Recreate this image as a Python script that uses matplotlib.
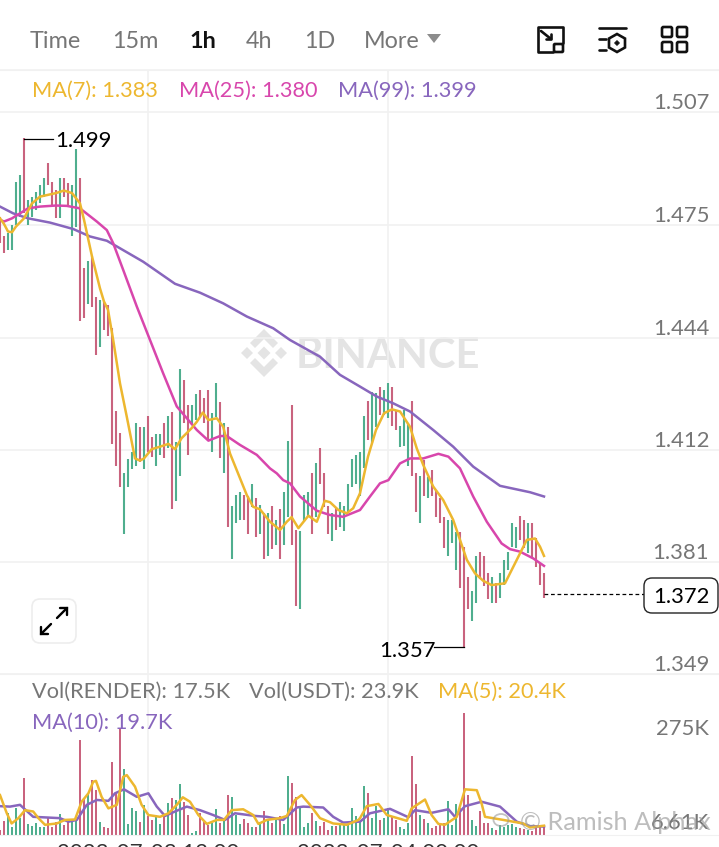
import matplotlib
matplotlib.use("Agg")
import matplotlib.pyplot as plt
from matplotlib.patches import FancyBboxPatch, Polygon, Ellipse
from matplotlib.transforms import ScaledTranslation

plt.rcParams['font.family'] = ['Lato', 'DejaVu Sans']

high = [1.4776,1.4720,1.4729,1.4753,1.4874,1.4893,1.4996,1.4823,1.4832,1.4846,
        1.4865,1.4884,1.4926,1.4874,1.4851,1.4884,1.4884,1.4870,1.4865,1.4965,
        1.4884,1.4631,1.4651,1.4664,1.4551,1.4542,1.4537,1.4528,1.4462,1.4228,
        1.4167,1.4054,1.4094,1.4115,1.4195,1.4185,1.4185,1.4215,1.4155,1.4165,
        1.4165,1.4195,1.4215,1.4227,1.4143,1.4347,1.4317,1.4246,1.4246,1.4277,
        1.4287,1.4265,1.4287,1.4225,1.4307,1.4256,1.4195,1.4185,1.3963,1.3993,
        1.4003,1.3993,1.3989,1.4024,1.3984,1.3965,1.3942,1.3942,1.3962,1.3923,
        1.3954,1.4003,1.4145,1.4246,1.3895,1.3893,1.3993,1.4003,1.4054,1.4084,
        1.4124,1.4054,1.3963,1.3942,1.3956,1.3973,1.3963,1.4024,1.4094,1.4106,
        1.4115,1.4215,1.4258,1.4284,1.4279,1.4298,1.4288,1.4307,1.4298,1.4228,
        1.4187,1.4232,1.4195,1.4258,1.4054,1.4047,1.4092,1.4045,1.4064,1.4007,
        1.3984,1.3932,1.3923,1.3923,1.3890,1.3890,1.3848,1.3762,1.3722,1.3822,
        1.3832,1.3822,1.3773,1.3762,1.3745,1.3773,1.3811,1.3834,1.3914,1.3904,
        1.3934,1.3923,1.3914,1.3914,1.3871,1.3799,1.3773]
low = [1.4701,1.4673,1.4682,1.4682,1.4753,1.4776,1.4785,1.4753,1.4776,1.4795,
       1.4813,1.4832,1.4865,1.4804,1.4771,1.4771,1.4832,1.4804,1.4722,1.4748,
       1.4481,1.4490,1.4530,1.4523,1.4387,1.4410,1.4457,1.4439,1.4137,1.4075,
       1.4015,1.3884,1.4015,1.4065,1.4075,1.4087,1.4065,1.4115,1.4099,1.4075,
       1.4106,1.4096,1.4124,1.3954,1.3975,1.4047,1.4197,1.4106,1.4190,1.4204,
       1.4213,1.4197,1.4148,1.4115,1.4212,1.4096,1.4056,1.3904,1.3812,1.3914,
       1.3923,1.3923,1.3884,1.3960,1.3874,1.3884,1.3812,1.3822,1.3841,1.3853,
       1.3812,1.3853,1.3932,1.3853,1.3681,1.3672,1.3918,1.3932,1.3884,1.3932,
       1.4024,1.3960,1.3884,1.3864,1.3895,1.3904,1.3893,1.3942,1.4015,1.4024,
       1.3989,1.4068,1.4148,1.4139,1.4185,1.4218,1.4218,1.4209,1.4187,1.4176,
       1.4127,1.4131,1.4075,1.4047,1.3945,1.3914,1.3989,1.3984,1.3989,1.3932,
       1.3914,1.3843,1.3822,1.3857,1.3782,1.3731,1.3562,1.3672,1.3640,1.3689,
       1.3756,1.3737,1.3700,1.3691,1.3691,1.3703,1.3740,1.3782,1.3846,1.3843,
       1.3867,1.3843,1.3829,1.3820,1.3792,1.3740,1.3703]
direction = ("rrggggrggg" "ggrrrgrrgg" "rrgrrgrrrr" "rggggrgrrg"
             "grgrggrrgg" "rrrggrgrgg" "grrgrgrgrg"
             "rggrrgggrg" "rrrgrggggg" "ggrggrggrr" "gggrrgrgrr"
             "rrgggrrrgg" "rrrgrggggg" "rrgrrrr")
volume = [11,32,49,19,60,38,128,25,20,28,19,17,40,19,30,47,23,35,34,34,
          214,83,94,125,101,30,19,15,165,98,240,148,25,60,53,30,68,43,34,45,
          25,43,73,83,79,116,75,45,5,8,49,30,23,28,59,28,34,90,86,45,
          25,35,28,19,19,30,53,34,28,34,43,25,133,118,86,64,17,26,49,32,
          20,30,11,20,20,23,23,25,60,43,30,110,95,38,65,34,38,60,41,34,
          19,13,26,178,115,45,35,28,15,20,25,26,77,23,70,60,274,90,34,21,
          53,26,28,15,11,23,19,23,25,19,15,13,11,10,19,21,18]

ma7_k = [0,1,2,3,4,6,8,10,12,14,16,18,20,21,23,25,26,27,28.3,30,31.7,33.75,35,36,37.9,40,42.1,43.75,45.4,47.9,
         49.2,50.7,52.1,54.2,55.8,57.5,61.7,63.3,65,67.5,70,71.7,72.9,74.6,77.1,79.2,81.2,82.5,84.6,86.7,88.3,90,
         92,94,96,98,100,102.5,104.2,105.8,108.3,110.8,113.3,115,116.7,118.75,120.8,122.9,126.25,127.9,130,131.7,133.75,135,136]
ma7 = [1.4771,1.4755,1.4734,1.4732,1.4748,1.4771,1.4813,1.4832,1.4837,1.4842,1.4849,1.4842,1.4813,1.4767,1.4664,1.4574,1.4537,1.4514,1.4429,1.4307,1.4213,1.4096,1.4090,1.4096,1.4122,1.4129,1.4137,1.4122,1.4153,1.4181,
       1.4199,1.4225,1.4204,1.4209,1.4185,1.4110,1.3993,1.3960,1.3953,1.3918,1.3895,1.3918,1.3931,1.3900,1.3935,1.3918,1.3977,1.3973,1.3951,1.3942,1.3956,1.3998,
       1.4101,1.4176,1.4223,1.4234,1.4228,1.4185,1.4124,1.4078,1.4017,1.3979,1.3923,1.3867,1.3811,1.3773,1.3752,1.3740,1.3745,1.3782,1.3829,1.3867,1.3871,1.3848,1.3822]
ma25_k = [0,1,3,5,7,10,14,16.7,20,24.2,26.7,28.3,30.8,34.2,37.5,40.8,44.2,46.7,49.2,52.1,55,56.7,60,64.2,67.5,69.2,70.8,72.5,75,79.2,82.5,85.8,90,
          92.5,95,97.1,100,102.5,105.8,109.6,112.1,115,118.3,121.7,125.4,127.5,130,133.3,136]
ma25 = [1.4767,1.4762,1.4771,1.4785,1.4799,1.4804,1.4807,1.4806,1.4799,1.4762,1.4738,1.4701,1.4626,1.4523,1.4429,1.4335,1.4242,1.4209,1.4176,1.4146,1.4159,1.4159,1.4134,1.4106,1.4068,1.4054,1.4035,1.4026,1.3989,1.3949,1.3937,1.3932,1.3951,
        1.3989,1.4026,1.4035,1.4082,1.4096,1.4096,1.4109,1.4101,1.4068,1.3989,1.3918,1.3857,1.3841,1.3834,1.3815,1.3794]
ma99_k = [0,3.3,7,12.5,18.3,22.5,26.7,29.2,35.8,43.75,50,55.8,61.7,68.3,72.5,80,85,90,94.2,98.3,102.5,108.3,113.3,118.3,125,130,132.5,136]
ma99 = [1.4804,1.4785,1.4771,1.4759,1.4741,1.4720,1.4708,1.4692,1.4649,1.4587,1.4562,1.4532,1.4495,1.4462,1.4429,1.4382,1.4331,1.4298,1.4270,1.4251,1.4228,1.4176,1.4129,1.4073,1.4019,1.4007,1.4001,1.3989]

vma5_k = [0,1.7,2.9,4.6,6.25,8.3,9.6,11.25,14.2,16.25,18.75,20.4,22.1,23.3,24,25.4,27.1,29.2,30.8,31.7,33.75,35.4,37.1,40,42.1,44.2,45.7,47.5,49.6,51.7,54.2,56,57.9,60.8,63.3,64.6,66.7,70,71.7,73.75,75.4,77.5,80,83.3,86.7,89.6,
          90,91.7,94.6,96.7,101.7,102.9,106.25,107.9,109.6,111.25,114.2,116.25,119.2,120.4,121.25,125.8,130.8,132.5,136]
vma5 = [90,49,26,38,56,53,38,23,26,34,35,75,94,120,122,86,60,68,131,135,109,68,45,41,49,68,85,75,45,25,34,34,56,58,45,25,34,38,43,79,90,68,38,26,23,34,
        38,65,70,45,32,60,80,45,25,23,41,103,101,71,41,34,26,17,21]
vma10_k = [0,2.5,5,8.3,15,17.1,19.2,21.7,24.2,27.1,28.75,31,34.2,37.1,39.2,41.25,43.75,46.7,50,53.3,56.25,58.75,63.75,66.7,70.8,74.2,75.8,80.8,83.3,85.8,89.6,
           90,92.5,97.5,102.1,103.75,107.9,112.1,113.75,116.25,120.4,125,129.2,132.5,136]
vma10 = [65,64,68,41,38,30,34,68,79,77,94,103,86,94,64,43,53,64,56,45,34,49,43,41,34,62,64,62,41,28,30,
         30,49,59,40,56,50,58,41,65,75,64,30,20,19]

price_ticks = [1.5070, 1.4752, 1.4435, 1.4120, 1.3805, 1.3490]
price_labels = ['1.507', '1.475', '1.444', '1.412', '1.381', '1.349']
volume_ticks = [275, 6.61]
volume_labels = ['275K', '6.61K']
time_ticks = [37, 97]
time_labels = ['2023-07-03 12:00', '2023-07-04 00:00']
peak_price, trough_price, last_price = 1.499, 1.357, 1.372

W, H = 719, 847
GREEN, RED = '#4FAE8E', '#C9637E'
YELLOW, MAGENTA, PURPLE = '#EDB72F', '#D846AC', '#8866BD'
GRID, GRAY, DARK = '#F1F1F1', '#767676', '#111111'

def rect(top, bottom):
    return [0, 1 - bottom / H, 1, (bottom - top) / H]

fig = plt.figure(figsize=(W / 100, H / 100), dpi=100, facecolor='white')

bg = fig.add_axes([0, 0, 1, 1], zorder=0)
bg.set_xlim(0, W); bg.set_ylim(H, 0); bg.axis('off')
ax = fig.add_axes(rect(70, 674), zorder=1)
vx = fig.add_axes(rect(674, 835), zorder=1)
top = fig.add_axes([0, 0, 1, 1], zorder=3)
top.set_xlim(0, W); top.set_ylim(H, 0); top.axis('off')

# watermark
WM = '#E4E4E4'
cx, cy = 264, 353
def diamond(x, y, r):
    bg.add_patch(Polygon([(x, y - r), (x + r, y), (x, y + r), (x - r, y)], fc=WM, ec='none'))
diamond(cx, cy, 6.5); diamond(cx - 17, cy, 6); diamond(cx + 17, cy, 6)
for s in (-1, 1):
    bg.add_patch(Polygon([(cx, cy + s * 24), (cx + 14, cy + s * 10), (cx + 9, cy + s * 5), (cx, cy + s * 14),
                          (cx - 9, cy + s * 5), (cx - 14, cy + s * 10)], fc=WM, ec='none'))
bg.text(296, 356, 'BINANCE', color=WM, fontsize=30, fontweight='bold', va='center', ha='left')

# price panel
for a in (ax, vx):
    a.patch.set_visible(False)
    a.set_xlim(0, W / 4)
    a.set_xticks(time_ticks)
    a.grid(True, axis='x', color=GRID, lw=1.2)
    a.set_axisbelow(True)
    for s in a.spines.values():
        s.set_visible(False)
ax.set_ylim(1.349, 1.5188)
ax.set_yticks(price_ticks)
ax.set_yticklabels(price_labels)
ax.set_xticklabels([])
ax.yaxis.tick_right()
ax.grid(True, axis='y', color=GRID, lw=1.2)
ax.tick_params(length=0, axis='both')
ax.tick_params(axis='y', labelcolor=GRAY, labelsize=15.8, pad=-7)
off = ScaledTranslation(0, -1 / 100, fig.dpi_scale_trans)
for t in ax.get_yticklabels():
    t.set_ha('right'); t.set_va('bottom')
    t.set_transform(t.get_transform() + off)
ax.spines['top'].set_visible(True); ax.spines['top'].set_color(GRID)
ax.spines['bottom'].set_visible(True); ax.spines['bottom'].set_color(GRID)

k = list(range(len(high)))
colors = [GREEN if d == 'g' else RED for d in direction]
ax.vlines(k, low, high, colors=colors, lw=1.5, zorder=2)
ax.plot(ma99_k, ma99, color=PURPLE, lw=1.8, zorder=3)
ax.plot(ma25_k, ma25, color=MAGENTA, lw=1.8, zorder=4)
ax.plot(ma7_k, ma7, color=YELLOW, lw=1.8, zorder=5)

ax.plot([6, 13.2], [peak_price + 0.0004] * 2, color='black', lw=0.9, zorder=6)
ax.plot([108.4, 116], [trough_price - 0.0005] * 2, color='black', lw=0.9, zorder=6)
ax.plot([136, 161], [last_price - 0.0005] * 2, color='black', lw=0.9, dashes=(3, 2.2), zorder=6)

# volume panel
vx.set_ylim(0, 363)
vx.set_yticks(volume_ticks)
vx.set_yticklabels(volume_labels)
vx.yaxis.tick_right()
vx.set_xticklabels(time_labels)
vx.tick_params(length=0, axis='both')
vx.tick_params(axis='y', labelcolor=GRAY, labelsize=15.8, pad=-7)
vx.tick_params(axis='x', labelcolor='#333333', labelsize=16, pad=6)
labs = vx.get_yticklabels()
labs[0].set_ha('right'); labs[0].set_va('top')
labs[0].set_transform(labs[0].get_transform() + ScaledTranslation(0, -6 / 100, fig.dpi_scale_trans))
labs[1].set_ha('right'); labs[1].set_va('bottom')
labs[1].set_transform(labs[1].get_transform() + ScaledTranslation(0, -1 / 100, fig.dpi_scale_trans))
vx.spines['bottom'].set_visible(True); vx.spines['bottom'].set_color(GRID)
vx.bar(k, volume, width=0.55, color=colors, zorder=2)
vx.plot(vma10_k, vma10, color=PURPLE, lw=1.8, zorder=3)
vx.plot(vma5_k, vma5, color=YELLOW, lw=1.8, zorder=4)

# header
top.plot([0, W], [70, 70], color=GRID, lw=1.2)
for txt, x, col, w in [('Time', 30, GRAY, 'normal'), ('15m', 112, GRAY, 'normal'), ('1h', 189, DARK, 'bold'),
                       ('4h', 246, GRAY, 'normal'), ('1D', 304, GRAY, 'normal'), ('More', 364, GRAY, 'normal')]:
    top.text(x, 42, txt, color=col, fontsize=16.8, fontweight=w, va='center', ha='left')
top.add_patch(Polygon([(427, 34), (441, 34), (434, 43)], fc='#8C8C8C', ec='none'))

# icons
ic = dict(color=DARK, lw=1.9, solid_capstyle='round', solid_joinstyle='round')
top.plot([553, 538, 538, 563, 563], [52, 52, 27, 27, 43], **ic)
top.add_patch(FancyBboxPatch((554, 44), 9, 8, boxstyle='round,pad=0,rounding_size=1', fc='none', ec=DARK, lw=1.9))
top.plot([541, 551], [31, 39], **ic)
top.plot([551, 551, 546], [34, 39, 39], **ic)
top.plot([599, 626], [28, 28], **ic)
top.plot([599, 606], [39, 39], **ic)
top.plot([599, 606], [50, 50], **ic)
top.add_patch(Polygon([(617, 34), (625, 38.5), (625, 47.5), (617, 52), (609, 47.5), (609, 38.5)],
                      closed=True, fc='none', ec=DARK, lw=1.9))
top.add_patch(Polygon([(617, 40.5), (619.5, 43), (617, 45.5), (614.5, 43)], fc=DARK, ec=DARK, lw=0.5))
for x0 in (662, 677):
    for y0 in (27, 42):
        top.add_patch(FancyBboxPatch((x0, y0), 10, 10, boxstyle='round,pad=0,rounding_size=1.5', fc='none', ec=DARK, lw=1.9))

# legends
leg = dict(fontsize=15.7, va='center', ha='left')
top.text(32, 91, 'MA(7): 1.383', color=YELLOW, **leg)
top.text(179, 91, 'MA(25): 1.380', color=MAGENTA, **leg)
top.text(338, 91, 'MA(99): 1.399', color=PURPLE, **leg)
top.text(32, 692, 'Vol(RENDER): 17.5K', color=GRAY, **leg)
top.text(249, 692, 'Vol(USDT): 23.9K', color=GRAY, **leg)
top.text(438, 692, 'MA(5): 20.4K', color=YELLOW, **leg)
top.text(32, 723, 'MA(10): 19.7K', color=PURPLE, **leg)

# annotations
top.text(55, 141, f'{peak_price:.3f}', color='black', fontsize=15.8, va='center', ha='left')
top.text(379, 651, f'{trough_price:.3f}', color='black', fontsize=15.8, va='center', ha='left')
top.add_patch(FancyBboxPatch((644, 578), 74, 35, boxstyle='round,pad=0,rounding_size=8', fc='white', ec='#222222', lw=1))
top.text(681, 597, f'{last_price:.3f}', color='black', fontsize=15.8, va='center', ha='center')

# expand button
top.add_patch(FancyBboxPatch((32, 599), 44, 44, boxstyle='round,pad=0,rounding_size=8', fc='white', ec='#EDEDED', lw=1.2))
ar = dict(color='black', lw=1.7, solid_capstyle='round', solid_joinstyle='miter')
top.plot([57, 67], [618, 608], **ar); top.plot([60, 67, 67], [608, 608, 615], **ar)
top.plot([51, 41], [624, 634], **ar); top.plot([41, 41, 48], [627, 634, 634], **ar)

# user watermark
top.add_patch(Ellipse((501, 820), 15, 12, fc='none', ec='#9A9A9A', lw=1.3, alpha=0.6))
top.text(520, 823, '\u00a9 Ramish Alphax', color='#9A9A9A', alpha=0.65, fontsize=18.2, va='center', ha='left')

fig.savefig('out.png', dpi=100)
